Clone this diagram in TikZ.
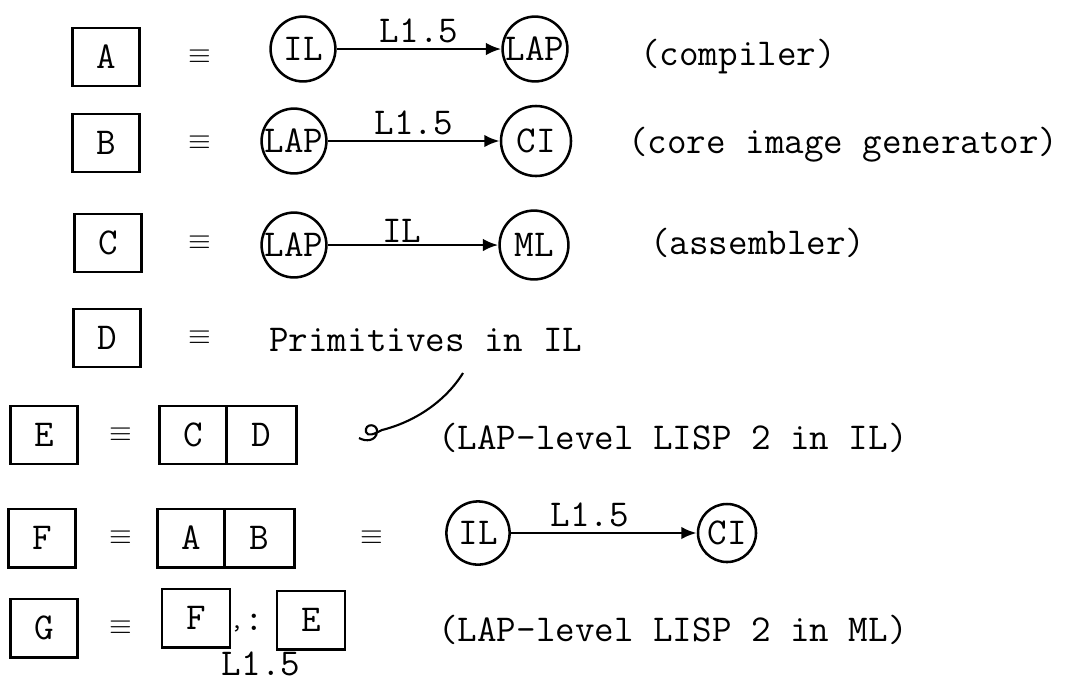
\documentclass[tikz,border=0pt]{standalone}
\usepackage{tikz}
\usetikzlibrary{positioning}
\usetikzlibrary{arrows.meta}

\tikzset {
  x=0.025cm, y=-0.025cm,
  every node/.style={font=\fontsize{27}{31}\selectfont\ttfamily, inner sep=1pt},
  % lettered boxes
  blk/.style = {draw, line width=2.1pt, minimum width=1.68cm, minimum height=1.45cm, inner sep=0pt, outer sep=0pt},
  % language circles
  lang/.style = {draw, circle, line width=1.8pt, minimum size=1.62cm, inner sep=0pt},
  eqv/.style = {font=\fontsize{21}{23}\selectfont},
  note/.style = {anchor=west, inner sep=0pt},
  % translator edges
  trans/.style = {-{Latex[length=11pt, width=9pt]}, line width=2pt},
}

\begin{document}
\begin{tikzpicture}
  \useasboundingbox (0,0) rectangle (1076,687);

  % A: compiler
  \node[blk] (a) at (106,57) {A};
  \node[eqv] (eqa) at (200,57) {$\equiv$};
  \node[lang] (ila) at (303,49) {IL};
  \node[lang] (lapa) at (535,49) {LAP};
  \draw [trans] (ila) -- node[above=2pt] {L1.5} (lapa);
  \node[note] (compiler) at (640,57) {(compiler)};

  % B: core image generator
  \node[blk] (b) at (106,143) {B};
  \node[eqv] (eqb) at (200,143) {$\equiv$};
  \node[lang] (lapb) at (294,141) {LAP};
  \node[lang, minimum size=1.75cm] (cib) at (536,141) {CI};
  \draw [trans] (lapb) -- node[above=2pt] {L1.5} (cib);
  \node[note] (cig) at (628,145) {(core image generator)};

  % C: assembler
  \node[blk] (c) at (108,243) {C};
  \node[eqv] (eqc) at (200,243) {$\equiv$};
  \node[lang] (lapc) at (294,245) {LAP};
  \node[lang, minimum size=1.72cm] (mlc) at (534,245) {ML};
  \draw [trans] (lapc) -- node[above=0pt, xshift=-8] {IL} (mlc);
  \node[note] (asm) at (650,243) {(assembler)};

  % D: primitives
  \node[blk] (d) at (107,338) {D};
  \node[eqv] (eqd) at (200,338) {$\equiv$};
  \node[note] (prim) at (269,340) {Primitives in IL};

  % hand drawn pointer down to row E
  \coordinate (pin) at (463,373);
  \coordinate (hook) at (382,430);
  \draw [line width=1.5pt] (pin) .. controls (445,402) and (414,422) .. (hook)
    .. controls (374,434) and (368,437) .. (366,432)
    .. controls (364,423) and (378,423) .. (377,432)
    .. controls (376,441) and (366,442) .. (359,438);

  % E = C D
  \node[blk] (e) at (44,435) {E};
  \node[eqv] (eqe) at (121,435) {$\equiv$};
  \node[blk, minimum width=1.66cm] (ec) at (193,435) {C};
  \node[blk, minimum width=1.76cm, right=0pt of ec] (ed) {D};
  \node[note] (lapil) at (438,438) {(LAP-level LISP 2 in IL)};

  % F = A B = IL -> CI
  \node[blk] (f) at (42,538) {F};
  \node[eqv] (eqf) at (121,538) {$\equiv$};
  \node[blk, minimum width=1.68cm] (fa) at (191,538) {A};
  \node[blk, minimum width=1.75cm, right=0pt of fa] (fb) {B};
  \node[eqv] (eqf2) at (372,538) {$\equiv$};
  \node[lang, minimum size=1.58cm] (ilf) at (478,533) {IL};
  \node[lang, minimum size=1.45cm] (cif) at (727,533) {CI};
  \draw [trans] (ilf) -- node[above=2pt, xshift=-10] {L1.5} (cif);

  % G = F : E
  \node[blk] (g) at (44,628) {G};
  \node[eqv] (eqg) at (121,628) {$\equiv$};
  \node[blk, minimum width=1.7cm] (gf) at (196,618) {F};
  \node[blk, minimum width=1.7cm] (ge) at (311,620) {E};
  \node[font=\fontsize{18}{20}\selectfont\ttfamily] (comma) at (237,629) {,};
  \node (colon) at (254,622) {:};
  \node (gl) at (261,664) {L1.5};
  \node[note] (lapml) at (438,630) {(LAP-level LISP 2 in ML)};
\end{tikzpicture}
\end{document}
